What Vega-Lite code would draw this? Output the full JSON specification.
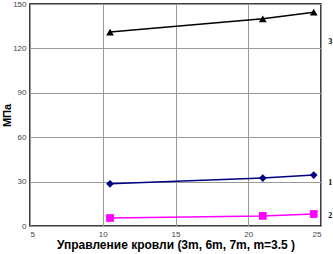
{
  "$schema": "https://vega.github.io/schema/vega-lite/v6.json",
  "autosize": "none",
  "width": 291,
  "height": 222,
  "padding": {"left": 30, "top": 4, "right": 12, "bottom": 28},
  "background": "white",
  "config": {
    "view": {"stroke": "black", "strokeWidth": 1.5},
    "axis": {"labelFont": "Liberation Sans", "labelFontSize": 8, "labelColor": "#444", "gridColor": "#999", "gridWidth": 1, "domain": false, "ticks": false, "labelPadding": 4}
  },
  "datasets": {
    "pts": [
      {"x": 10.5, "y": 28.5, "s": "1"},
      {"x": 21, "y": 32.4, "s": "1"},
      {"x": 24.5, "y": 34.4, "s": "1"},
      {"x": 10.5, "y": 5.4, "s": "2"},
      {"x": 21, "y": 6.8, "s": "2"},
      {"x": 24.5, "y": 8.1, "s": "2"},
      {"x": 10.5, "y": 131, "s": "3"},
      {"x": 21, "y": 140, "s": "3"},
      {"x": 24.5, "y": 144.5, "s": "3"}
    ],
    "labs": [
      {"x": 25.5, "y": 124, "t": "3"},
      {"x": 25.5, "y": 29, "t": "1"},
      {"x": 25.5, "y": 7, "t": "2"}
    ]
  },
  "layer": [
    {
      "data": {"name": "pts"},
      "mark": {"type": "line", "strokeWidth": 1.5},
      "encoding": {
        "x": {"field": "x", "type": "quantitative", "scale": {"domain": [5, 25], "nice": false}, "axis": {"values": [5, 10, 15, 20, 25], "title": "Управление кровли (3m, 6m, 7m, m=3.5 )", "titleFont": "Liberation Sans", "titleFontSize": 12, "titleFontWeight": "bold", "titleColor": "black", "titlePadding": 1}},
        "y": {"field": "y", "type": "quantitative", "scale": {"domain": [0, 150], "nice": false}, "axis": {"values": [0, 30, 60, 90, 120, 150], "title": "МПа", "titleFont": "Liberation Sans", "titleFontSize": 11, "titleFontWeight": "bold", "titleColor": "black", "titlePadding": 0}},
        "color": {"field": "s", "type": "nominal", "scale": {"domain": ["1", "2", "3"], "range": ["#000080", "#FF00FF", "#000000"]}, "legend": null}
      }
    },
    {
      "data": {"name": "pts"},
      "mark": {"type": "point", "filled": true, "opacity": 1},
      "encoding": {
        "x": {"field": "x", "type": "quantitative"},
        "y": {"field": "y", "type": "quantitative"},
        "color": {"field": "s", "type": "nominal", "legend": null},
        "shape": {"field": "s", "type": "nominal", "scale": {"domain": ["1", "2", "3"], "range": ["diamond", "square", "triangle-up"]}, "legend": null},
        "size": {"value": 60}
      }
    },
    {
      "data": {"name": "labs"},
      "mark": {"type": "text", "font": "Liberation Serif", "fontSize": 8, "fontWeight": "bold", "align": "left", "clip": false},
      "encoding": {
        "x": {"field": "x", "type": "quantitative"},
        "y": {"field": "y", "type": "quantitative"},
        "text": {"field": "t"}
      }
    }
  ]
}
